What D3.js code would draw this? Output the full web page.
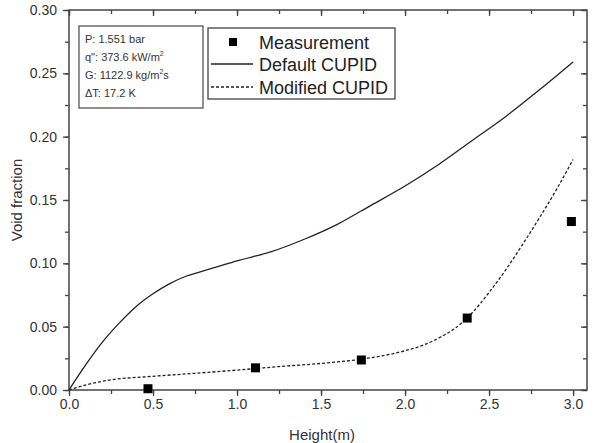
<!DOCTYPE html>
<html>
<head>
<meta charset="utf-8">
<script src="https://cdn.jsdelivr.net/npm/d3@7"></script>
<style>
  body { margin: 0; background: #fff; }
  text { font-family: "Liberation Sans", Arial, sans-serif; }
</style>
</head>
<body>
<div class="chart"></div>
<script>
// data
var meas_x = [0.47, 1.11, 1.74, 2.37, 2.99];
var meas_y = [0.001, 0.0175, 0.0237, 0.0568, 0.133];

var default_x = [0, 0.1, 0.2, 0.3, 0.4, 0.5, 0.6, 0.7, 0.8, 0.9, 1.0, 1.2, 1.4, 1.6, 1.8, 2.0, 2.2, 2.4, 2.6, 2.8, 3.0];
var default_y = [0, 0.020, 0.038, 0.053, 0.066, 0.076, 0.084, 0.090, 0.094, 0.098, 0.102, 0.109, 0.119, 0.131, 0.146, 0.161, 0.178, 0.197, 0.216, 0.237, 0.259];

var modified_x = [0, 0.1, 0.25, 0.5, 0.75, 1.0, 1.25, 1.5, 1.75, 2.0, 2.1, 2.2, 2.3, 2.4, 2.5, 2.6, 2.7, 2.8, 2.9, 3.0];
var modified_y = [0, 0.004, 0.008, 0.0108, 0.0132, 0.0157, 0.0185, 0.021, 0.0245, 0.031, 0.035, 0.041, 0.049, 0.061, 0.077, 0.095, 0.115, 0.136, 0.158, 0.182];

var x_ticks = [0, 0.5, 1.0, 1.5, 2.0, 2.5, 3.0];
var y_ticks = [0, 0.05, 0.10, 0.15, 0.20, 0.25, 0.30];

// [text, superscript, rest]
var info_lines = [["P: 1.551 bar", "", ""], ["q\": 373.6 kW/m", "2", ""], ["G: 1122.9 kg/m", "2", "s"], ["ΔT: 17.2 K", "", ""]];
var legend_names = ["Measurement", "Default CUPID", "Modified CUPID"];

var width = 597, height = 443;
var margin = {top: 10, right: 10, bottom: 53, left: 69};

var svg = d3.select('.chart')
    .append('svg')
        .attr('width', width)
        .attr('height', height);

var x = d3.scaleLinear()
    .domain([0, 3.083])
    .range([margin.left, width - margin.right]);

var y = d3.scaleLinear()
    .domain([0, 0.30])
    .range([height - margin.bottom, margin.top]);

var axis_color = '#444';
var minor_x = d3.range(0, 3.01, 0.25);
var minor_y = d3.range(0, 0.301, 0.025);

// bottom axis, ticks outward
var bottom = svg.append('g')
    .attr('transform', 'translate(0,' + y(0) + ')')
    .call(d3.axisBottom(x).tickValues(minor_x).tickSize(4).tickFormat(''));
bottom.append('g')
    .call(d3.axisBottom(x).tickValues(x_ticks).tickSize(6).tickPadding(3).tickFormat(d3.format('.1f')));

// left axis, ticks outward
var left = svg.append('g')
    .attr('transform', 'translate(' + x(0) + ',0)')
    .call(d3.axisLeft(y).tickValues(minor_y).tickSize(4).tickFormat(''));
left.append('g')
    .call(d3.axisLeft(y).tickValues(y_ticks).tickSize(6).tickPadding(6).tickFormat(d3.format('.2f')));

// top and right, ticks inward
svg.append('g')
    .attr('transform', 'translate(0,' + y(0.30) + ')')
    .call(d3.axisBottom(x).tickValues(minor_x).tickSize(4).tickFormat(''))
    .append('g')
    .call(d3.axisBottom(x).tickValues(x_ticks).tickSize(6).tickFormat(''));

svg.append('g')
    .attr('transform', 'translate(' + x.range()[1] + ',0)')
    .call(d3.axisLeft(y).tickValues(minor_y).tickSize(4).tickFormat(''))
    .append('g')
    .call(d3.axisLeft(y).tickValues(y_ticks).tickSize(6).tickFormat(''));

svg.selectAll('.domain').remove();
svg.selectAll('.tick line').attr('stroke', axis_color).attr('stroke-width', 1.3);
svg.selectAll('.tick text')
    .attr('fill', '#333')
    .style('font-size', '14px')
    .style('font-family', '"Liberation Sans", Arial, sans-serif');

// frame
svg.append('rect')
    .attr('x', x(0))
    .attr('y', y(0.30))
    .attr('width', x.range()[1] - x(0))
    .attr('height', y(0) - y(0.30))
    .attr('fill', 'none')
    .attr('stroke', axis_color)
    .attr('stroke-width', 1.5);

// axis titles
svg.append('text')
    .attr('x', 322)
    .attr('y', 440)
    .attr('text-anchor', 'middle')
    .style('font-size', '15px')
    .attr('fill', '#333')
    .text('Height(m)');

svg.append('text')
    .attr('transform', 'translate(22,' + ((y(0) + y(0.30)) / 2) + ') rotate(-90)')
    .attr('text-anchor', 'middle')
    .style('font-size', '15px')
    .attr('fill', '#333')
    .text('Void fraction');

// curves
var line = d3.line()
    .x(function(d) { return x(d[0]); })
    .y(function(d) { return y(d[1]); })
    .curve(d3.curveMonotoneX);

svg.append('path')
    .datum(d3.zip(default_x, default_y))
    .attr('d', line)
    .attr('fill', 'none')
    .attr('stroke', '#222')
    .attr('stroke-width', 1.3);

svg.append('path')
    .datum(d3.zip(modified_x, modified_y))
    .attr('d', line)
    .attr('fill', 'none')
    .attr('stroke', '#222')
    .attr('stroke-width', 1.3)
    .attr('stroke-dasharray', '3,2');

var sq = 9;
svg.selectAll('.meas')
    .data(d3.zip(meas_x, meas_y))
    .enter()
    .append('rect')
        .attr('class', 'meas')
        .attr('x', function(d) { return x(d[0]) - sq / 2; })
        .attr('y', function(d) { return y(d[1]) - sq / 2; })
        .attr('width', sq)
        .attr('height', sq)
        .attr('fill', '#000');

// info box
svg.append('rect')
    .attr('x', 79).attr('y', 26)
    .attr('width', 124).attr('height', 82)
    .attr('fill', '#fff')
    .attr('stroke', '#555')
    .attr('stroke-width', 1.3);

var info = svg.selectAll('.info')
    .data(info_lines)
    .enter()
    .append('text')
        .attr('class', 'info')
        .attr('x', 85)
        .attr('y', function(d, i) { return 43 + i * 18; })
        .style('font-size', '11px')
        .attr('fill', '#333');
info.append('tspan').text(function(d) { return d[0]; });
info.append('tspan')
    .attr('dy', -5)
    .style('font-size', '7px')
    .text(function(d) { return d[1]; });
info.append('tspan')
    .attr('dy', function(d) { return d[1] ? 5 : 0; })
    .text(function(d) { return d[2]; });

// legend
svg.append('rect')
    .attr('x', 208).attr('y', 28)
    .attr('width', 187).attr('height', 71)
    .attr('fill', '#fff')
    .attr('stroke', '#444')
    .attr('stroke-width', 1.3);

var leg_y = [42, 64, 87];
svg.append('rect')
    .attr('x', 233 - 4).attr('y', leg_y[0] - 4)
    .attr('width', 8).attr('height', 8)
    .attr('fill', '#000');
svg.append('line')
    .attr('x1', 211).attr('x2', 253)
    .attr('y1', leg_y[1]).attr('y2', leg_y[1])
    .attr('stroke', '#222').attr('stroke-width', 1.3);
svg.append('line')
    .attr('x1', 211).attr('x2', 253)
    .attr('y1', leg_y[2]).attr('y2', leg_y[2])
    .attr('stroke', '#222').attr('stroke-width', 1.3)
    .attr('stroke-dasharray', '3,2');

svg.selectAll('.leg')
    .data(legend_names)
    .enter()
    .append('text')
        .attr('class', 'leg')
        .attr('x', 259)
        .attr('y', function(d, i) { return leg_y[i] + 6.5; })
        .style('font-size', '18px')
        .attr('fill', '#222')
        .text(function(d) { return d; });
</script>
</body>
</html>
